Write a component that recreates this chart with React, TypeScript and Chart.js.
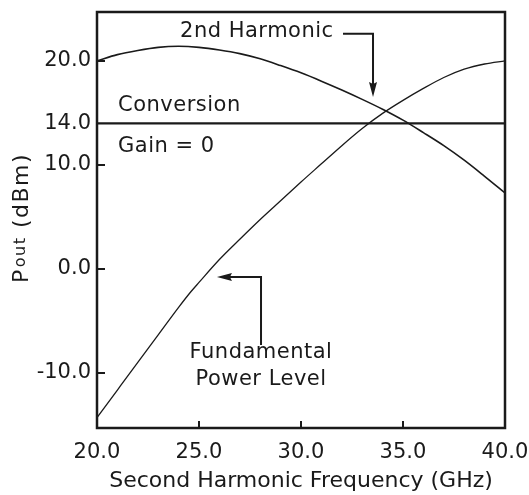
import React, { useEffect, useRef } from "react";
import { Chart, registerables } from "chart.js";

Chart.register(...registerables);

// ---- data ----
const harmonicFreq = [20, 21, 22, 23, 24, 25, 26, 27, 28, 29, 30, 31, 32, 33, 34, 35, 36, 37, 38, 39, 40];
const harmonicPower = [20.0, 20.6, 21.0, 21.3, 21.4, 21.3, 21.05, 20.7, 20.2, 19.55, 18.85, 18.05, 17.2, 16.3, 15.35, 14.3, 13.1, 11.85, 10.45, 8.9, 7.3];

const fundamentalFreq = [20, 21, 22, 23, 24, 24.6, 25, 26, 27, 28, 29, 30, 31, 32, 33, 34, 35, 36, 37, 38, 39, 40];
const fundamentalPower = [-14.3, -11.65, -9.0, -6.35, -3.7, -2.2, -1.3, 0.9, 2.85, 4.75, 6.55, 8.35, 10.1, 11.85, 13.5, 14.95, 16.2, 17.35, 18.4, 19.2, 19.7, 20.0];

const gainFreq = [20, 40];
const gainLevel = [14, 14];

const xTickValues = [20, 25, 30, 35, 40];
const yTickValues = [-10, 0, 10, 14, 20];
const xInnerTicks = [25, 30, 35];
const yInnerTicks = [20, 10, 0, -10];
const xLimits = [20, 40];
const yLimits = [-15.3, 24.7];

const xTitle = "Second Harmonic Frequency (GHz)";
const yTitleMain = "P";
const yTitleSub = "out";
const yTitleRest = " (dBm)";
const harmonicLabel = "2nd Harmonic";
const conversionLabel = "Conversion";
const gainLabel = "Gain = 0";
const fundamentalLabel = ["Fundamental", "Power Level"];

const FONT = '"DejaVu Sans", Verdana, sans-serif';
const INK = "#1a1a1a";

const annotationPlugin = {
  id: "annotations",
  afterDatasetsDraw(chart: any) {
    const { ctx, chartArea: a, scales } = chart;
    const px = (v: number) => scales.x.getPixelForValue(v);
    const py = (v: number) => scales.y.getPixelForValue(v);
    ctx.save();

    // frame
    ctx.strokeStyle = INK;
    ctx.lineWidth = 2.5;
    ctx.strokeRect(a.left, a.top, a.right - a.left, a.bottom - a.top);

    // inward tick marks
    ctx.lineWidth = 2;
    ctx.beginPath();
    for (const v of xInnerTicks) {
      ctx.moveTo(px(v), a.bottom);
      ctx.lineTo(px(v), a.bottom - 7);
    }
    for (const v of yInnerTicks) {
      ctx.moveTo(a.left, py(v));
      ctx.lineTo(a.left + 8, py(v));
    }
    ctx.stroke();

    // text annotations
    ctx.fillStyle = INK;
    ctx.font = `21px ${FONT}`;
    (ctx as any).letterSpacing = "0.5px";
    ctx.textBaseline = "alphabetic";
    ctx.textAlign = "left";
    ctx.fillText(harmonicLabel, px(24.07), py(22.3));
    ctx.fillText(conversionLabel, px(21.03), py(15.18));
    ctx.fillText(gainLabel, px(21.03), py(11.24));
    ctx.textAlign = "center";
    ctx.fillText(fundamentalLabel[0], px(28.04), py(-8.57));
    ctx.fillText(fundamentalLabel[1], px(28.04), py(-11.17));

    // 2nd harmonic arrow
    ctx.lineWidth = 2;
    const hx0 = px(32.06), hy0 = py(22.6), hx1 = px(33.53), hTip = py(16.53);
    ctx.beginPath();
    ctx.moveTo(hx0, hy0);
    ctx.lineTo(hx1, hy0);
    ctx.lineTo(hx1, hTip - 12);
    ctx.stroke();
    ctx.beginPath();
    ctx.moveTo(hx1, hTip);
    ctx.lineTo(hx1 - 4, hTip - 15);
    ctx.lineTo(hx1, hTip - 13);
    ctx.lineTo(hx1 + 4, hTip - 15);
    ctx.closePath();
    ctx.fill();

    // fundamental arrow
    const fTipX = px(25.88), fy = py(-0.78), fx1 = px(28.04), fy1 = py(-7.32);
    ctx.beginPath();
    ctx.moveTo(fx1, fy1);
    ctx.lineTo(fx1, fy);
    ctx.lineTo(fTipX + 12, fy);
    ctx.stroke();
    ctx.beginPath();
    ctx.moveTo(fTipX, fy);
    ctx.lineTo(fTipX + 15, fy - 4);
    ctx.lineTo(fTipX + 13, fy);
    ctx.lineTo(fTipX + 15, fy + 4);
    ctx.closePath();
    ctx.fill();

    ctx.restore();
  },
  afterDraw(chart: any) {
    const { ctx, chartArea: a } = chart;
    ctx.save();
    ctx.fillStyle = INK;
    (ctx as any).letterSpacing = "1.5px";
    ctx.textBaseline = "alphabetic";
    ctx.textAlign = "left";
    const mainFont = `22px ${FONT}`;
    const subFont = `16px ${FONT}`;
    ctx.font = mainFont;
    const wP = ctx.measureText(yTitleMain).width;
    const wRest = ctx.measureText(yTitleRest).width;
    ctx.font = subFont;
    const wSub = ctx.measureText(yTitleSub).width;
    const total = wP + wSub + 1 + wRest;
    const cy = (a.top + a.bottom) / 2 - 2;
    ctx.translate(28, cy + total / 2);
    ctx.rotate(-Math.PI / 2);
    ctx.font = mainFont;
    ctx.fillText(yTitleMain, 0, 0);
    ctx.font = subFont;
    ctx.fillText(yTitleSub, wP + 1, -3);
    ctx.font = mainFont;
    ctx.fillText(yTitleRest, wP + 1 + wSub, 0);
    ctx.restore();
  },
};

const noPadding = (s: any) => {
  s.paddingTop = 0;
  s.paddingBottom = 0;
  s.paddingLeft = 0;
  s.paddingRight = 0;
};

export default function App() {
  const canvasRef = useRef<HTMLCanvasElement | null>(null);

  useEffect(() => {
    const canvas = canvasRef.current;
    if (!canvas) return;
    const chart = new Chart(canvas, {
      type: "line",
      data: {
        datasets: [
          {
            label: "2nd Harmonic",
            data: harmonicFreq.map((x, i) => ({ x, y: harmonicPower[i] })),
            borderColor: INK,
            borderWidth: 1.6,
            pointRadius: 0,
            cubicInterpolationMode: "monotone",
            fill: false,
          },
          {
            label: "Fundamental Power Level",
            data: fundamentalFreq.map((x, i) => ({ x, y: fundamentalPower[i] })),
            borderColor: INK,
            borderWidth: 1.3,
            pointRadius: 0,
            cubicInterpolationMode: "monotone",
            fill: false,
          },
          {
            label: "Conversion Gain = 0",
            data: gainFreq.map((x, i) => ({ x, y: gainLevel[i] })),
            borderColor: INK,
            borderWidth: 2.2,
            pointRadius: 0,
            fill: false,
          },
        ],
      },
      options: {
        responsive: false,
        animation: false,
        events: [],
        layout: { padding: { top: 12, right: 24, left: 0, bottom: 0 } },
        plugins: {
          legend: { display: false },
          tooltip: { enabled: false },
        },
        scales: {
          x: {
            type: "linear",
            min: xLimits[0],
            max: xLimits[1],
            afterBuildTicks: (s: any) => {
              s.ticks = xTickValues.map((v) => ({ value: v }));
            },
            afterFit: (s: any) => {
              s.height = 67;
              noPadding(s);
            },
            grid: { display: false, drawTicks: false },
            border: { display: false },
            ticks: {
              color: INK,
              font: { family: FONT, size: 21 },
              padding: 12,
              maxRotation: 0,
              autoSkip: false,
              callback: (v: any) => Number(v).toFixed(1),
            },
            title: {
              display: true,
              text: xTitle,
              color: INK,
              font: { family: FONT, size: 22 },
              padding: { top: 0, bottom: 1 },
            },
          },
          y: {
            type: "linear",
            min: yLimits[0],
            max: yLimits[1],
            afterBuildTicks: (s: any) => {
              s.ticks = yTickValues.map((v) => ({ value: v }));
            },
            afterFit: (s: any) => {
              s.width = 97;
              noPadding(s);
            },
            grid: { display: false, drawTicks: false },
            border: { display: false },
            ticks: {
              color: INK,
              font: { family: FONT, size: 21 },
              padding: 6,
              autoSkip: false,
              callback: (v: any) => Number(v).toFixed(1),
            },
          },
        },
      },
      plugins: [annotationPlugin],
    } as any);
    return () => chart.destroy();
  }, []);

  return (
    <div style={{ position: "absolute", left: 0, top: 0, width: 529, height: 495, background: "#fff" }}>
      <canvas ref={canvasRef} width={529} height={495} style={{ display: "block" }} />
    </div>
  );
}
